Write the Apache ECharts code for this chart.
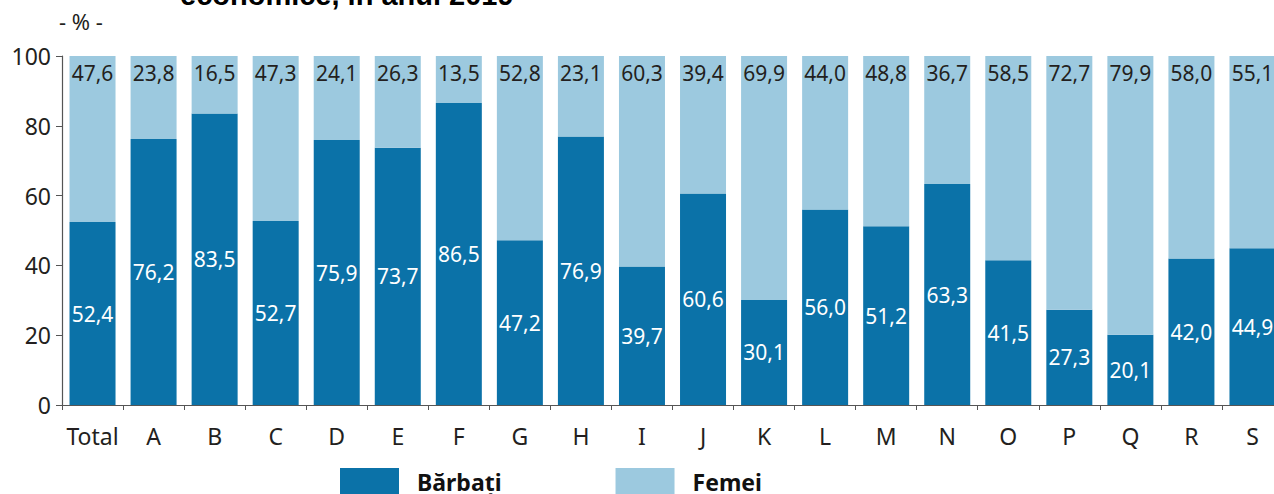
<!DOCTYPE html>
<html>
<head>
<meta charset="utf-8">
<script src="https://cdn.jsdelivr.net/npm/echarts@6/dist/echarts.min.js"></script>
<style>
html,body{margin:0;padding:0;background:#fff;overflow:hidden;}
#chart{width:1283px;height:494px;}
</style>
</head>
<body>
<div id="chart"></div>
<script>
const categories = ['Total','A','B','C','D','E','F','G','H','I','J','K','L','M','N','O','P','Q','R','S'];
const barbati = [52.4,76.2,83.5,52.7,75.9,73.7,86.5,47.2,76.9,39.7,60.6,30.1,56.0,51.2,63.3,41.5,27.3,20.1,42.0,44.9];
const femei = [47.6,23.8,16.5,47.3,24.1,26.3,13.5,52.8,23.1,60.3,39.4,69.9,44.0,48.8,36.7,58.5,72.7,79.9,58.0,55.1];
const yTicks = [0,20,40,60,80,100];
const titleText = 'economice, în anul 2019';
const unitText = '- % -';
const seriesNames = ['Bărbați','Femei'];

const FONT = '"Noto Sans", "DejaVu Sans", sans-serif';
const fmt = v => v.toFixed(1).replace('.', ',');

const chart = echarts.init(document.getElementById('chart'), null, {renderer: 'svg'});
chart.setOption({
  animation: false,
  backgroundColor: '#ffffff',
  grid: {left: 62, right: 0, top: 56, bottom: 89, containLabel: false},
  graphic: [
    {type: 'text', left: 180, top: -20, style: {text: titleText, font: 'bold 29px "Liberation Sans", Arial, sans-serif', fill: '#000'}},
    {type: 'text', left: 59, top: 10, style: {text: unitText, font: '22px ' + FONT, fill: '#231f20'}}
  ],
  legend: {
    left: 340, top: 468, padding: 0,
    icon: 'rect', itemWidth: 59, itemHeight: 28, itemGap: 114,
    data: seriesNames,
    textStyle: {fontFamily: FONT, fontSize: 23, fontWeight: 'bold', color: '#111', padding: [0,0,10,13]}
  },
  xAxis: {
    type: 'category', data: categories,
    axisLine: {show: true, lineStyle: {color: '#555', width: 1.2}},
    axisTick: {show: true, length: 5, lineStyle: {color: '#555'}},
    axisLabel: {interval: 0, fontFamily: FONT, fontSize: 23, color: '#231f20', margin: 19}
  },
  yAxis: {
    type: 'value', min: yTicks[0], max: yTicks[yTicks.length-1], interval: yTicks[1]-yTicks[0],
    axisLine: {show: true, lineStyle: {color: '#555', width: 1.2}},
    axisTick: {show: true, length: 6, lineStyle: {color: '#555'}},
    splitLine: {show: false},
    axisLabel: {fontFamily: FONT, fontSize: 23, color: '#231f20', margin: 11}
  },
  series: [
    {
      name: seriesNames[0], type: 'bar', stack: 'total', data: barbati, barWidth: 46,
      itemStyle: {color: '#0b72a8'},
      label: {show: true, position: 'inside', formatter: p => fmt(p.value), fontFamily: FONT, fontSize: 21, color: '#fff'}
    },
    {
      name: seriesNames[1], type: 'bar', stack: 'total', data: femei, barWidth: 46,
      itemStyle: {color: '#9cc9df'},
      label: {show: true, position: 'insideTop', distance: 6, formatter: p => fmt(p.value), fontFamily: FONT, fontSize: 21, color: '#231f20'}
    }
  ]
});
</script>
</body>
</html>
